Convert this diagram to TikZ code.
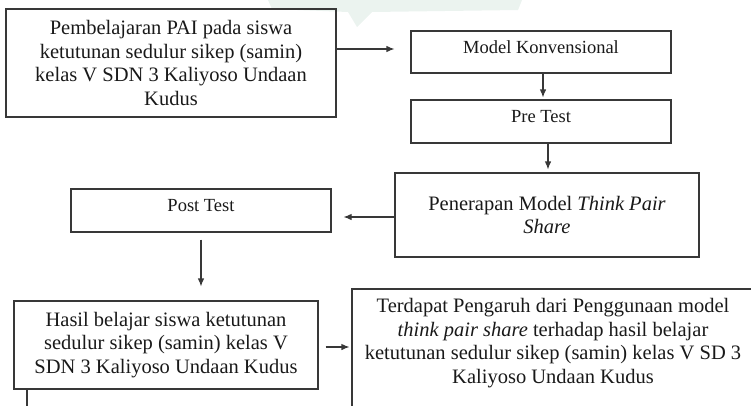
\documentclass[tikz,border=0pt]{standalone}
\usepackage{fontspec}
\setmainfont{Liberation Serif}
\usetikzlibrary{arrows.meta}
\definecolor{ln}{HTML}{383838}
\definecolor{wm}{HTML}{EBF3EF}
\tikzset{
  bx/.style={draw=ln, line width=1.1pt, rectangle, inner sep=0pt, align=center, text=black!90},
  big/.style={font=\fontsize{20.5}{23.5}\selectfont},
  small/.style={font=\fontsize{18.5}{21}\selectfont, text height=13pt, text depth=11pt},
  arr/.style={draw=ln, line width=1.1pt, -{Latex[length=8pt,width=6.5pt]}},
  plain/.style={draw=ln, line width=1.6pt}
}
\begin{document}
\begin{tikzpicture}[x=1pt,y=-1pt]
\useasboundingbox (0,0) rectangle (751,405);
\clip (0,0) rectangle (751,405);
% faint watermark
\fill[wm] (268,0) -- (522,0) -- (518,10) -- (372,12) -- (357,27) -- (348,12) -- (272,9) -- cycle;

\node[bx,big, minimum width=330, minimum height=108] (box1) at (171,63)
  {Pembelajaran PAI pada siswa\\ketutunan sedulur sikep (samin)\\kelas V SDN 3 Kaliyoso Undaan\\Kudus};
\node[bx,small, minimum width=260, minimum height=42] (model) at (541,52) {Model Konvensional};
\node[bx,small, minimum width=260, minimum height=43] (pre) at (541,121.5) {Pre Test};
\node[bx,big, minimum width=304, minimum height=84] (pen) at (547,215)
  {Penerapan Model \textit{Think Pair}\\\textit{Share}};
\node[bx,small, minimum width=260, minimum height=43] (post) at (201,210.5) {Post Test};
\node[bx,big, minimum width=304, minimum height=88] (hasil) at (166,345)
  {Hasil belajar siswa ketutunan\\sedulur sikep (samin) kelas V\\SDN 3 Kaliyoso Undaan Kudus};
\node[bx, minimum width=405, minimum height=141] (res) at (554.5,359.5) {};
\node[big, align=center, text=black!90, inner sep=0pt] (restext) at (553,343)
  {Terdapat Pengaruh dari Penggunaan model\\\textit{think pair share} terhadap hasil belajar\\ketutunan sedulur sikep (samin) kelas V SD 3\\Kaliyoso Undaan Kudus};

\draw[arr] ([yshift=14pt]box1.east) -- ([xshift=-16pt,yshift=3pt]model.west);
\draw[arr] ([xshift=2pt]model.south) -- ([xshift=2pt,yshift=2pt]pre.north);
\draw[arr] ([xshift=7pt]pre.south) -- ([xshift=1pt,yshift=3pt]pen.north);
\draw[arr] ([yshift=-2pt]pen.west) -- ([xshift=12pt,yshift=-6.5pt]post.east);
\draw[arr] ([yshift=-7pt]post.south) -- ([xshift=35pt,yshift=14pt]hasil.north);
\draw[arr] ([xshift=7pt,yshift=-2pt]hasil.east) -- ([xshift=-2pt,yshift=12.5pt]res.west);
\coordinate (tail) at ([xshift=-139pt,yshift=-30pt]hasil.south);
\draw[plain] ([xshift=-139pt]hasil.south) -- (tail);
\end{tikzpicture}
\end{document}
